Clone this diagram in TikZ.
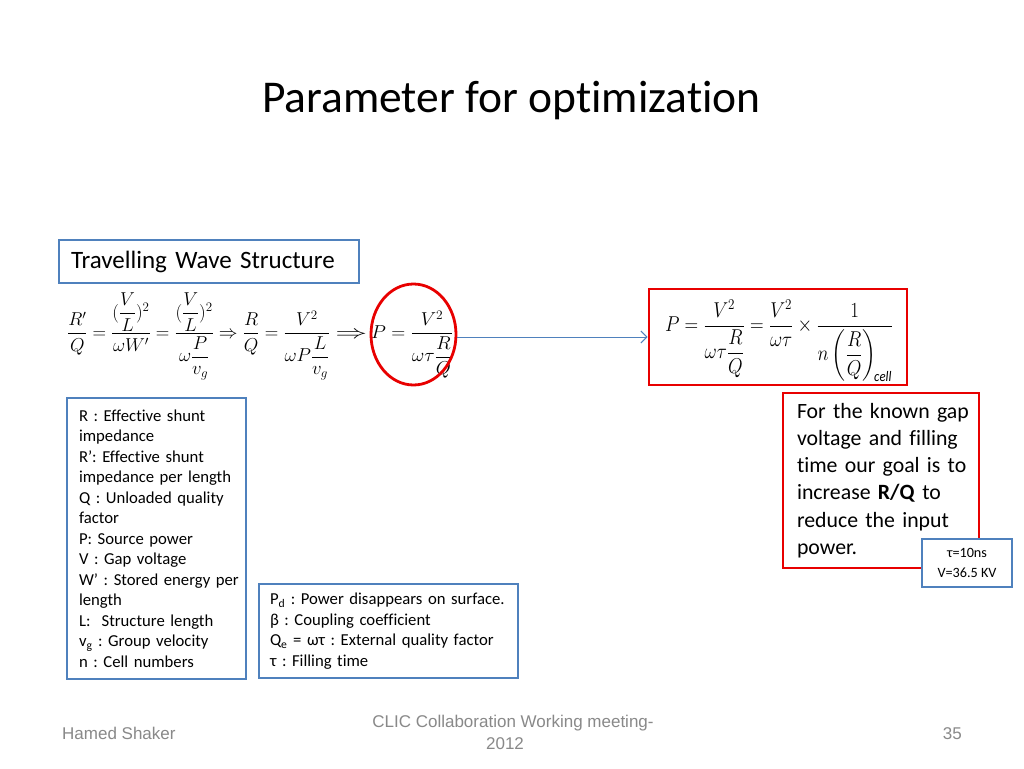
\documentclass[tikz,border=0pt]{standalone}
\usepackage{fontspec}
\usepackage{amsmath}
\setmainfont{Carlito}[Ligatures=NoCommon]
\newfontfamily\footfont{Liberation Sans}
\usetikzlibrary{arrows.meta,shapes.geometric}
\definecolor{ppblue}{RGB}{79,129,189}
\definecolor{ppred}{RGB}{232,0,0}
\definecolor{ppgray}{RGB}{137,137,137}
\newsavebox\eqLbox
\newsavebox\eqPbox
\newcommand\myLongImp{\mathrel{\scalebox{1.7}[1]{$\Rightarrow$}}}
\frenchspacing
\begin{document}
\begin{tikzpicture}[x=1pt,y=-1pt,
  bluebox/.style={draw=ppblue, line width=2.2pt, fill=white, inner sep=0pt},
  redframe/.style={draw=ppred, line width=2.8pt, inner sep=0pt},
  smalltext/.style={font=\fontsize{16.7}{20.5}\selectfont},
  foot/.style={font=\footfont\fontsize{17}{22}\selectfont, text=ppgray, inner sep=0pt},
  eqfont/.style={font=\fontsize{20}{24}\selectfont, inner sep=0pt}
]
\sbox\eqLbox{\fontsize{20}{24}\selectfont$\displaystyle
\frac{R'}{Q}=\frac{(\dfrac{V}{L})^{2}}{\omega W'}=\frac{(\dfrac{V}{L})^{2}}{\omega\dfrac{P}{v_g}}\Rightarrow\frac{R}{Q}=\frac{V^{2}}{\omega P\dfrac{L}{v_g}}\myLongImp$}%
\sbox\eqPbox{\fontsize{20}{24}\selectfont$\displaystyle P=\frac{V^{2}}{\omega\tau\dfrac{R}{Q}}$}%
\edef\eqLh{\the\dimexpr\ht\eqLbox+\dp\eqLbox\relax}%
\edef\eqLw{\the\wd\eqLbox}%
\edef\eqPw{\the\wd\eqPbox}%
\pgfmathsetmacro\vsL{87/\eqLh}%
\pgfmathsetmacro\hsL{300/\eqLw}%
\pgfmathsetmacro\hsP{82/\eqPw}%
\useasboundingbox (0,0) rectangle (1024,768);
\fill[white] (0,0) rectangle (1024,768);

% title
\node[anchor=base, inner sep=0pt, font=\fontsize{45.5}{50}\selectfont] (title) at (511.5,112) {Parameter for optimization};

% travelling wave box
\node[bluebox, minimum width=300pt, minimum height=43pt, font=\fontsize{25}{30}\selectfont, text width=276pt, align=left] (tw) at (209,261.5) {Travelling Wave Structure};

% left equation
\node[eqfont, anchor=west] (eqleft) at (67,336.5) {\scalebox{\hsL}[\vsL]{\usebox\eqLbox}};
\coordinate (pstart) at (371,0);
\node[eqfont, anchor=base west] (eqP) at (eqleft.base -| pstart) {\scalebox{\hsP}[\vsL]{\usebox\eqPbox}};

% circle around P
\node[redframe, ellipse, minimum width=85pt, minimum height=101pt] (circ) at (413.5,334.5) {};

% right equation box
\node[redframe, minimum width=258pt, minimum height=96pt] (eqbox) at (778,337) {};
\node[eqfont] (eqright) at (779,341) {\resizebox*{228pt}{82pt}{$\displaystyle
P=\frac{V^{2}}{\omega\tau\dfrac{R}{Q}}=\frac{V^{2}}{\omega\tau}\times\frac{1}{n\left(\dfrac{R}{Q}\right)_{\!\mathit{cell}}}$}};

% arrow
\draw[ppblue, line width=1pt, -{Straight Barb[length=6pt,width=12pt]}] (circ.east |- eqbox.west) -- (eqbox.west);

% left definitions box
\node[bluebox, smalltext, minimum width=179pt, minimum height=281pt, text width=155pt, align=left] (defs) at (156.5,538.5) {%
\mbox{R : Effective shunt}\\
\mbox{impedance}\\
\mbox{R’: Effective shunt}\\
\mbox{impedance per length}\\
\mbox{Q : Unloaded quality}\\
\mbox{factor}\\
\mbox{P: Source power}\\
\mbox{V : Gap voltage}\\
\mbox{W’ : Stored energy per}\\
\mbox{length}\\
\mbox{L:\ \ Structure length}\\
\mbox{v\textsubscript{g} : Group velocity}\\
\mbox{n : Cell numbers}};

% middle definitions box
\node[bluebox, smalltext, minimum width=259pt, minimum height=94pt, text width=237pt, align=left] (defs2) at (388.5,631) {%
\mbox{P\textsubscript{d} : Power disappears on surface.}\\
\mbox{β : Coupling coefficient}\\
\mbox{Q\textsubscript{e} = ωτ : External quality factor}\\
\mbox{τ : Filling time}};

% red text box
\node[redframe, fill=white, minimum width=196pt, minimum height=175pt, text width=168pt, align=left, font=\fontsize{21.8}{27.3}\selectfont] (goal) at (881,480.5) {%
\mbox{For the known gap}\\
\mbox{voltage and filling}\\
\mbox{time our goal is to}\\
\mbox{increase \textbf{R/Q} to}\\
\mbox{reduce the input}\\
\mbox{power.}};

% tau box
\node[bluebox, minimum width=90pt, minimum height=48pt, align=center, font=\fontsize{14.2}{20}\selectfont] (taubox) at (967,563) {τ=10ns\\V=36.5 KV};

% footer
\node[foot, anchor=base west] (author) at (62,739) {Hamed Shaker};
\node[foot, anchor=base] (meet) at (513,727) {CLIC Collaboration Working meeting-};
\node[foot, anchor=base] (year) at (505,749) {2012};
\node[foot, anchor=base east] (page) at (962,739) {35};
\end{tikzpicture}
\end{document}
